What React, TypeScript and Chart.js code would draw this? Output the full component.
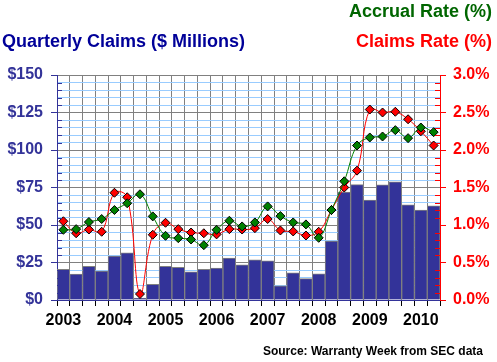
import React, { useEffect, useRef } from "react";
import { Chart, registerables } from "chart.js";

Chart.register(...registerables);

const years = ["2003", "2004", "2005", "2006", "2007", "2008", "2009", "2010"];
const quarters = [
  "2003 Q1", "2003 Q2", "2003 Q3", "2003 Q4",
  "2004 Q1", "2004 Q2", "2004 Q3", "2004 Q4",
  "2005 Q1", "2005 Q2", "2005 Q3", "2005 Q4",
  "2006 Q1", "2006 Q2", "2006 Q3", "2006 Q4",
  "2007 Q1", "2007 Q2", "2007 Q3", "2007 Q4",
  "2008 Q1", "2008 Q2", "2008 Q3", "2008 Q4",
  "2009 Q1", "2009 Q2", "2009 Q3", "2009 Q4",
  "2010 Q1", "2010 Q2",
];
const claims = [
  20.5, 17.2, 22.5, 19.2, 29.2, 31.4, 1.3, 10.5,
  22.5, 21.8, 18.7, 20.5, 21.2, 27.9, 23.4, 26.7,
  26.1, 9.4, 18.1, 14.3, 17.4, 39.2, 72.0, 76.9,
  66.6, 76.7, 78.7, 63.5, 59.9, 62.8,
];
const claimsRate = [
  1.05, 0.89, 0.94, 0.91, 1.43, 1.37, 0.08, 0.87,
  1.03, 0.945, 0.9, 0.89, 0.875, 0.945, 0.94, 0.958,
  1.08, 0.927, 0.914, 0.86, 0.91, 1.2, 1.5, 1.725,
  2.54, 2.5, 2.51, 2.41, 2.25, 2.06,
];
const accrualRate = [
  0.936, 0.945, 1.04, 1.08, 1.2, 1.29, 1.41, 1.115,
  0.856, 0.825, 0.807, 0.731, 0.936, 1.057, 0.981, 1.034,
  1.248, 1.119, 1.034, 1.008, 0.829, 1.2, 1.583, 2.06,
  2.167, 2.18, 2.265, 2.158, 2.3, 2.238,
];

const NAVY = "#333399";
const FONT = "'Liberation Sans', Arial, sans-serif";

const isMajorPct = (v: number) => Math.abs(v * 2 - Math.round(v * 2)) < 1e-6;

const innerTicks = {
  id: "innerTicks",
  afterDraw(chart: any) {
    const ctx = chart.ctx;
    const area = chart.chartArea;
    ctx.save();
    ctx.lineWidth = 1;
    const y = chart.scales.y;
    ctx.strokeStyle = NAVY;
    y.ticks.forEach((t: any) => {
      if (t.value % 25 !== 0) {
        const py = Math.round(y.getPixelForValue(t.value)) + 0.5;
        ctx.beginPath();
        ctx.moveTo(area.left, py);
        ctx.lineTo(area.left + 5, py);
        ctx.stroke();
      }
    });
    const y1 = chart.scales.y1;
    ctx.strokeStyle = "#ff0000";
    y1.ticks.forEach((t: any) => {
      if (!isMajorPct(t.value)) {
        const py = Math.round(y1.getPixelForValue(t.value)) + 0.5;
        ctx.beginPath();
        ctx.moveTo(area.right - 5, py);
        ctx.lineTo(area.right, py);
        ctx.stroke();
      }
    });
    ctx.restore();
  },
};

export default function App() {
  const ref = useRef<HTMLCanvasElement | null>(null);

  useEffect(() => {
    if (!ref.current) return;
    const chart = new Chart(ref.current, {
      type: "bar",
      data: {
        labels: quarters,
        datasets: [
          {
            type: "line",
            label: "Accrual Rate (%)",
            data: accrualRate,
            yAxisID: "y1",
            borderColor: "#008000",
            borderWidth: 1,
            pointStyle: "rectRot",
            pointRadius: 4.5,
            pointBackgroundColor: "#008000",
            pointBorderColor: "#000000",
            pointBorderWidth: 1,
            tension: 0.4,
            order: 0,
          } as any,
          {
            type: "line",
            label: "Claims Rate (%)",
            data: claimsRate,
            yAxisID: "y1",
            borderColor: "#ff0000",
            borderWidth: 1,
            pointStyle: "rectRot",
            pointRadius: 4.5,
            pointBackgroundColor: "#ff0000",
            pointBorderColor: "#000000",
            pointBorderWidth: 1,
            tension: 0.4,
            order: 1,
          } as any,
          {
            type: "bar",
            label: "Quarterly Claims ($ Millions)",
            data: claims,
            yAxisID: "y",
            backgroundColor: NAVY,
            borderColor: "#808080",
            borderWidth: 1,
            barPercentage: 1,
            categoryPercentage: 1,
            order: 2,
          } as any,
        ],
      },
      options: {
        animation: false,
        responsive: false,
        layout: { padding: { top: 75, left: 0, right: 0, bottom: 0 } },
        plugins: { legend: { display: false }, tooltip: { enabled: false } },
        scales: {
          x: {
            type: "category",
            offset: true,
            afterFit: (s: any) => { s.height = 62; },
            grid: {
              offset: true,
              color: "#808080",
              tickColor: "#000000",
              tickLength: 6,
            },
            border: { color: NAVY },
            ticks: {
              autoSkip: false,
              maxRotation: 0,
              minRotation: 0,
              padding: 5,
              color: "#000000",
              font: { family: FONT, size: 16, weight: "bold" },
              callback: (_v: any, i: number) => (i % 4 === 0 ? years[i / 4] : ""),
            },
          },
          y: {
            position: "left",
            min: 0,
            max: 150,
            afterFit: (s: any) => { s.width = 57; },
            grid: {
              color: (c: any) => (c.tick && c.tick.value % 25 === 0 ? "#808080" : "#99ccff"),
              tickColor: (c: any) => (c.tick && c.tick.value % 25 === 0 ? NAVY : "rgba(0,0,0,0)"),
              tickLength: 6,
            },
            border: { color: NAVY },
            ticks: {
              stepSize: 5,
              autoSkip: false,
              maxTicksLimit: 100,
              padding: 8,
              color: NAVY,
              font: { family: FONT, size: 16, weight: "bold" },
              callback: (v: any) => (Number(v) % 25 === 0 ? "$" + v : ""),
            },
          },
          y1: {
            position: "right",
            min: 0,
            max: 3,
            afterFit: (s: any) => { s.width = 57; },
            grid: {
              drawOnChartArea: false,
              tickColor: (c: any) => (c.tick && isMajorPct(c.tick.value) ? "#ff0000" : "rgba(0,0,0,0)"),
              tickLength: 6,
            },
            border: { color: "#ff0000" },
            ticks: {
              stepSize: 0.1,
              autoSkip: false,
              maxTicksLimit: 100,
              padding: 7,
              color: "#ff0000",
              font: { family: FONT, size: 16, weight: "bold" },
              callback: (v: any) => (isMajorPct(Number(v)) ? Number(v).toFixed(1) + "%" : ""),
            },
          },
        },
      },
      plugins: [innerTicks],
    } as any);
    return () => chart.destroy();
  }, []);

  const textBase: React.CSSProperties = {
    position: "absolute",
    fontFamily: FONT,
    fontWeight: "bold",
    whiteSpace: "nowrap",
  };

  return (
    <div style={{ position: "absolute", left: 0, top: 0, width: 497, height: 362, background: "#ffffff" }}>
      <canvas ref={ref} width={497} height={362} style={{ display: "block" }} />
      <div style={{ ...textBase, left: 2, top: 31.5, fontSize: 18, lineHeight: "18px", color: "#000099" }}>
        Quarterly Claims ($ Millions)
      </div>
      <div style={{ ...textBase, right: 5, top: 1.5, fontSize: 18, lineHeight: "18px", color: "#006600" }}>
        Accrual Rate (%)
      </div>
      <div style={{ ...textBase, right: 5, top: 31.5, fontSize: 18, lineHeight: "18px", color: "#ff0000" }}>
        Claims Rate (%)
      </div>
      <div style={{ ...textBase, right: 14, top: 345, fontSize: 12, lineHeight: "12px", color: "#000000" }}>
        Source: Warranty Week from SEC data
      </div>
    </div>
  );
}
